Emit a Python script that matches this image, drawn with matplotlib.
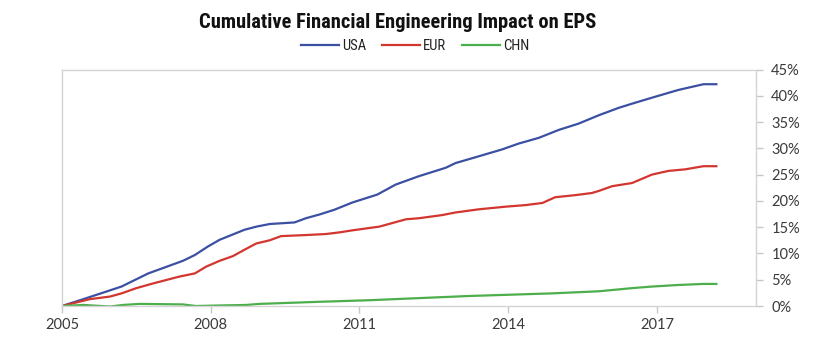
import matplotlib
matplotlib.use('Agg')
import matplotlib.pyplot as plt
from matplotlib.ticker import PercentFormatter
from matplotlib import font_manager

# Data (decimal years, percent)
usa_x = [2005.0, 2005.43, 2006.2, 2006.74, 2007.44, 2007.68, 2007.94, 2008.18, 2008.68,
         2008.92, 2009.19, 2009.69, 2009.92, 2010.19, 2010.49, 2010.86, 2011.36, 2011.73,
         2012.2, 2012.74, 2012.94, 2013.34, 2013.88, 2014.21, 2014.62, 2015.02, 2015.42,
         2015.83, 2016.23, 2016.5, 2016.96, 2017.43, 2017.94, 2018.2]
usa_y = [0.0, 1.3, 3.7, 6.2, 8.6, 9.7, 11.3, 12.6, 14.5,
         15.1, 15.6, 15.9, 16.7, 17.4, 18.3, 19.7, 21.2, 23.1,
         24.7, 26.3, 27.2, 28.3, 29.8, 30.9, 32.0, 33.5, 34.7,
         36.3, 37.7, 38.5, 39.8, 41.1, 42.2, 42.2]

eur_x = [2005.0, 2005.56, 2005.97, 2006.2, 2006.5, 2006.84, 2007.37, 2007.68, 2007.91,
         2008.18, 2008.45, 2008.68, 2008.92, 2009.19, 2009.42, 2009.92, 2010.33, 2010.59,
         2010.86, 2011.4, 2011.94, 2012.2, 2012.67, 2012.94, 2013.41, 2013.95, 2014.35,
         2014.69, 2014.95, 2015.36, 2015.69, 2015.83, 2016.1, 2016.5, 2016.9, 2017.23,
         2017.57, 2017.94, 2018.2]
eur_y = [0.0, 1.3, 1.8, 2.4, 3.4, 4.3, 5.6, 6.2, 7.5,
         8.6, 9.5, 10.7, 11.9, 12.5, 13.3, 13.5, 13.7, 14.0,
         14.4, 15.1, 16.5, 16.7, 17.3, 17.8, 18.4, 18.9, 19.2,
         19.6, 20.7, 21.1, 21.5, 21.9, 22.8, 23.4, 25.0, 25.7,
         26.0, 26.6, 26.6]

chn_x = [2005.0, 2005.43, 2005.97, 2006.23, 2006.57, 2007.44, 2007.7, 2008.18, 2008.72,
         2008.98, 2010.19, 2011.2, 2013.2, 2014.88, 2015.83, 2016.5, 2016.9, 2017.43,
         2017.94, 2018.2]
chn_y = [0.0, 0.2, -0.1, 0.2, 0.4, 0.3, 0.0, 0.1, 0.2,
         0.4, 0.8, 1.1, 1.9, 2.4, 2.8, 3.4, 3.7, 4.0,
         4.2, 4.2]

series = ['USA', 'EUR', 'CHN']
colors = ['#3B50A3', '#D3362F', '#4DAE4C']
year_ticks = [2005, 2008, 2011, 2014, 2017]
pct_ticks = [0, 5, 10, 15, 20, 25, 30, 35, 40, 45]

# pick a condensed face if one is around, else fall back to Lato
fonts = font_manager.fontManager.ttflist
names = {f.name for f in fonts}
cond, stretch = 'Lato', 'normal'
for cand in ['Liberation Sans Narrow', 'Roboto Condensed', 'Open Sans Condensed',
             'DejaVu Sans Condensed']:
    if cand in names:
        cond = cand
        break
else:
    for f in fonts:
        if f.name == 'DejaVu Sans' and f.stretch == 'condensed':
            cond, stretch = 'DejaVu Sans', 'condensed'
            break

fig = plt.figure(figsize=(8.4, 3.44), dpi=100)
ax = fig.add_axes([62 / 840, 38 / 344, 694 / 840, 236.5 / 344])

for xs, ys, name, c in zip([usa_x, eur_x, chn_x], [usa_y, eur_y, chn_y], series, colors):
    ax.plot(xs, ys, color=c, lw=1.6, label=name)

ax.set_xlim(2005, 2019)
ax.set_ylim(0, 45)
ax.set_xticks(year_ticks)
ax.set_yticks(pct_ticks)
ax.yaxis.set_major_formatter(PercentFormatter(decimals=0))
ax.yaxis.tick_right()

for s in ax.spines.values():
    s.set_color('#D4D4D4')
    s.set_linewidth(1.0)
ax.tick_params(axis='both', colors='#C8C8C8', labelcolor='#3A3A3A', length=5, width=1,
               labelsize=10.5)
ax.tick_params(axis='y', pad=6)
for lab in ax.get_xticklabels() + ax.get_yticklabels():
    lab.set_family('Lato')

# title sits a bit left of the figure centre in the original
fig.text(0.473, 0.935, 'Cumulative Financial Engineering Impact on EPS', ha='center',
         va='center', fontsize=14.8, fontweight='bold', family=cond, fontstretch=stretch,
         color='#111111')

leg = fig.legend(loc='center', bbox_to_anchor=(0.494, 0.865), ncol=3, frameon=False,
                 prop={'family': cond, 'size': 10.5, 'stretch': stretch},
                 handlelength=2.6, columnspacing=1.1, handletextpad=0.2)
for t in leg.get_texts():
    t.set_color('#222222')

fig.savefig('out.png', dpi=100)
